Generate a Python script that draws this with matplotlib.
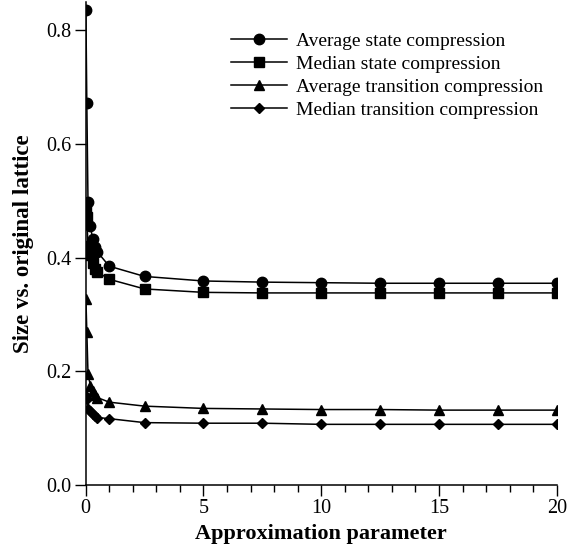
import matplotlib
matplotlib.use("Agg")
import matplotlib.pyplot as plt
from matplotlib.ticker import MultipleLocator

# approximation parameter values
x = [0.01, 0.05, 0.1, 0.2, 0.3, 0.4, 0.5, 1, 2.5, 5, 7.5, 10, 12.5, 15, 17.5, 20]

avg_state = [0.835, 0.671, 0.497, 0.456, 0.432, 0.418, 0.410, 0.385, 0.367,
             0.359, 0.357, 0.356, 0.355, 0.355, 0.355, 0.355]
med_state = [0.482, 0.472, 0.420, 0.405, 0.390, 0.380, 0.375, 0.362, 0.345,
             0.339, 0.338, 0.338, 0.338, 0.338, 0.338, 0.338]
avg_trans = [0.328, 0.270, 0.196, 0.175, 0.165, 0.158, 0.154, 0.146, 0.139,
             0.135, 0.134, 0.133, 0.133, 0.132, 0.132, 0.132]
med_trans = [0.157, 0.152, 0.134, 0.130, 0.126, 0.122, 0.119, 0.117, 0.110,
             0.109, 0.109, 0.107, 0.107, 0.107, 0.107, 0.107]

plt.rcParams['font.family'] = ['Liberation Serif', 'DejaVu Serif']

fig = plt.figure(figsize=(5.71, 5.52), dpi=100)
ax = fig.add_axes([0.150, 0.121, 0.825, 0.876])

lw = 1.1
ax.plot(x, avg_state, color="black", lw=lw, marker="o", ms=7.5,
        label="Average state compression")
ax.plot(x, med_state, color="black", lw=lw, marker="s", ms=7,
        label="Median state compression")
ax.plot(x, avg_trans, color="black", lw=lw, marker="^", ms=7.5,
        label="Average transition compression")
ax.plot(x, med_trans, color="black", lw=lw, marker="D", ms=5.5,
        label="Median transition compression")

ax.set_xlim(0, 20)
ax.set_ylim(0, 0.85)
ax.xaxis.set_major_locator(MultipleLocator(5))
ax.xaxis.set_minor_locator(MultipleLocator(1))
ax.yaxis.set_major_locator(MultipleLocator(0.2))
ax.yaxis.set_major_formatter(plt.FormatStrFormatter('%.1f'))
ax.tick_params(which="major", direction="out", length=8, width=1,
               labelsize=14.5, pad=2)
ax.tick_params(which="minor", direction="out", length=5, width=1)
for s in ["top", "right"]:
    ax.spines[s].set_visible(False)
for s in ["left", "bottom"]:
    ax.spines[s].set_linewidth(1.1)

ax.set_xlabel("Approximation parameter", fontsize=16, fontweight="bold",
              labelpad=4)
ax.set_ylabel("Size vs. original lattice", fontsize=16.5, fontweight="bold",
              labelpad=9)

ax.legend(loc="upper right", bbox_to_anchor=(1.0, 0.965), frameon=False,
          fontsize=14, handlelength=2.9, labelspacing=0.28,
          handletextpad=0.45, borderpad=0.2)

fig.savefig("out.png", dpi=100)
